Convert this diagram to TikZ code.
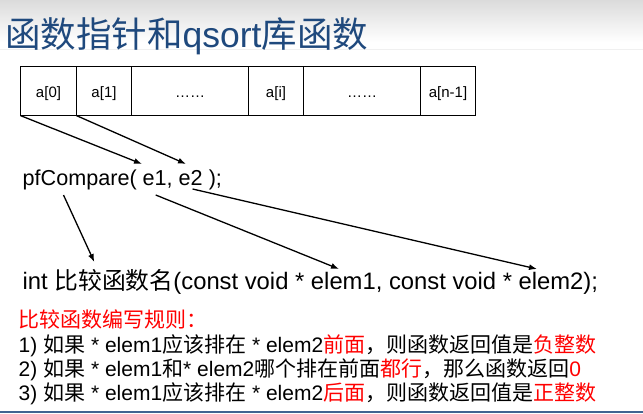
\documentclass[tikz,border=0pt]{standalone}
\usepackage{fontspec}
\setmainfont{Liberation Sans}
\newfontfamily\cjk{Noto Sans CJK SC}
\usetikzlibrary{arrows.meta,positioning}
\definecolor{titleblue}{RGB}{31,73,125}
\newcommand{\zh}[1]{{\cjk #1}}
\newcommand{\hl}[1]{\textcolor{red}{#1}}

\begin{document}
\begin{tikzpicture}[x=1pt,y=-1pt,
  cell/.style={draw,line width=1.2pt,minimum height=49pt,inner sep=0pt,outer sep=0pt,
    text height=12pt,text depth=0pt,font=\fontsize{15}{15}\selectfont},
  txt/.style={anchor=base west,inner sep=0pt},
  code/.style={txt,font=\fontsize{21.6}{21.6}\selectfont},
  rule/.style={txt,font=\fontsize{21}{21}\selectfont},
  ptr/.style={line width=1.3pt,-{Latex[length=8pt,width=6pt]}}]
\useasboundingbox (0,0) rectangle (643,413);
\shade[top color=black!14,bottom color=white] (0,0) rectangle (643,42);
\draw[black!6] (0,49.5) -- (643,49.5);
\node[txt,text=titleblue,font=\fontsize{35.5}{35.5}\selectfont] (title) at (5,47.5)
  {\zh{函数指针和}qsort\zh{库函数}};

\node[cell,minimum width=56pt] (a0) at (48.5,91.1) {a[0]};
\node[cell,minimum width=55pt,right=0pt of a0] (a1) {a[1]};
\node[cell,minimum width=117pt,right=0pt of a1] (d1) {……};
\node[cell,minimum width=55pt,right=0pt of d1] (ai) {a[i]};
\node[cell,minimum width=117pt,right=0pt of ai] (d2) {……};
\node[cell,minimum width=55pt,right=0pt of d2] (an) {a[n-1]};

\node[code] (call) at (22.5,185) {pfCompare( e1, e2 );};
\coordinate (e1) at (142,164);
\coordinate (e2) at (186,164);
\coordinate (callname) at (63.5,195);
\coordinate (arg1) at (155.7,195);
\coordinate (arg2) at (192.6,189);
\draw[ptr] (a0.south west) -- (e1);
\draw[ptr] (a1.south west) -- (e2);

\node[code,font=\fontsize{23.8}{23.8}\selectfont] (proto) at (22.5,289)
  {int \zh{比较函数名}(const void * elem1, const void * elem2);};
\coordinate (name) at (94.3,262);
\coordinate (elem1) at (339,269);
\coordinate (elem2) at (537,269);
\draw[ptr] (callname) -- (name);
\draw[ptr] (arg1) -- (elem1);
\draw[ptr] (arg2) -- (elem2);

\node[rule,text=red] (head) at (18.5,327) {\zh{比较函数编写规则：}};
\node[rule] (r1) at (18.5,352.5)
  {1) \zh{如果} * elem1\zh{应该排在} * elem2\hl{\zh{前面}}\zh{，则函数返回值是}\hl{\zh{负整数}}};
\node[rule] (r2) at (18.5,376.5)
  {2) \zh{如果} * elem1\zh{和}* elem2\zh{哪个排在前面}\hl{\zh{都行}}\zh{，那么函数返回}\hl{0}};
\node[rule] (r3) at (18.5,400)
  {3) \zh{如果} * elem1\zh{应该排在} * elem2\hl{\zh{后面}}\zh{，则函数返回值是}\hl{\zh{正整数}}};

\draw[titleblue!85,line width=1.5pt] (0,411.8) -- (643,411.8);
\end{tikzpicture}
\end{document}
